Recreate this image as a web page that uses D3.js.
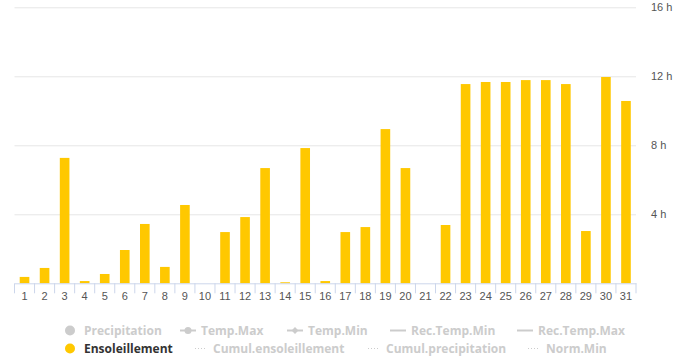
<!DOCTYPE html>
<html>
<head>
<meta charset="utf-8">
<script src="https://cdn.jsdelivr.net/npm/d3@7"></script>
<style>
  body { margin: 0; background: #fff; }
  svg { display: block; font-family: "Open Sans", sans-serif; }
</style>
</head>
<body>
<div id="chart"></div>
<script>
// days of the month and hours of sunshine
const days = d3.range(1, 32);
const sunshine = [0.37, 0.89, 7.27, 0.13, 0.54, 1.93, 3.44, 0.95, 4.54, 0,
                  2.97, 3.84, 6.68, 0.06, 7.84, 0.13, 2.97, 3.26, 8.94, 6.68,
                  0, 3.38, 11.55, 11.67, 11.67, 11.78, 11.78, 11.55, 3.03, 11.96, 10.57];
const yTicks = [4, 8, 12, 16];

// legend rows (only Ensoleillement is active)
const legendRow1 = [
    { name: "Precipitation", symbol: "circle", x: 70 },
    { name: "Temp.Max", symbol: "lineCircle", x: 180 },
    { name: "Temp.Min", symbol: "lineDiamond", x: 287 },
    { name: "Rec.Temp.Min", symbol: "line", x: 390 },
    { name: "Rec.Temp.Max", symbol: "line", x: 517 }
];
const legendRow2 = [
    { name: "Ensoleillement", symbol: "circle", x: 70, active: true },
    { name: "Cumul.ensoleillement", symbol: "dots", x: 195 },
    { name: "Cumul.precipitation", symbol: "dots", x: 368 },
    { name: "Norm.Min", symbol: "dots", x: 528 }
];

const W = 684, H = 362;
const margin = { top: 7.3, right: 48, bottom: 78.7, left: 14.5 };
const width = W - margin.left - margin.right;
const height = H - margin.top - margin.bottom;

const svg = d3.select("#chart").append("svg")
    .attr("width", W)
    .attr("height", H)
  .append("g")
    .attr("transform", "translate(" + margin.left + "," + margin.top + ")");

const x = d3.scaleBand().domain(days).range([0, width]);
const xBar = d3.scaleBand().domain(days).range([0, width]).paddingInner(0.52).paddingOuter(0.26);
const y = d3.scaleLinear().domain([0, 16]).range([height, 0]);

// grid + right axis labels
const yAxis = svg.append("g")
    .attr("transform", "translate(" + width + ",0)")
    .call(d3.axisRight(y).tickValues(yTicks).tickFormat(d => d + " h")
        .tickSizeInner(-width).tickSizeOuter(0).tickPadding(15));
yAxis.select(".domain").remove();
yAxis.selectAll(".tick line").attr("stroke", "#e6e6e6");
yAxis.selectAll(".tick text").attr("fill", "#555").attr("font-size", "11px");

// bars
svg.selectAll(".bar")
    .data(sunshine)
  .enter().append("rect")
    .attr("class", "bar")
    .attr("x", (d, i) => xBar(days[i]))
    .attr("y", d => y(d))
    .attr("width", xBar.bandwidth())
    .attr("height", d => height - y(d))
    .attr("fill", "#ffc800");

// x axis
const xAxis = svg.append("g")
    .attr("transform", "translate(0," + height + ")")
    .call(d3.axisBottom(x).tickSize(0).tickPadding(9));
xAxis.select(".domain").attr("stroke", "#ccd6eb");
xAxis.selectAll(".tick text").attr("fill", "#555").attr("font-size", "11px");
xAxis.selectAll(".sep")
    .data(d3.range(0, days.length + 1))
  .enter().append("line")
    .attr("x1", i => i * x.step())
    .attr("x2", i => i * x.step())
    .attr("y1", 0)
    .attr("y2", 10)
    .attr("stroke", "#ccd6eb");

// legend
const legend = d3.select("svg").append("g").attr("class", "legend");

function drawItem(g, d, cy) {
    const col = d.active ? "#ffc800" : "#cccccc";
    if (d.symbol === "circle") {
        g.append("circle").attr("cx", d.x).attr("cy", cy).attr("r", 5).attr("fill", col);
    } else if (d.symbol === "dots") {
        g.append("line").attr("x1", d.x).attr("x2", d.x + 12).attr("y1", cy).attr("y2", cy)
            .attr("stroke", col).attr("stroke-dasharray", "1,2");
    } else {
        g.append("line").attr("x1", d.x).attr("x2", d.x + 16).attr("y1", cy).attr("y2", cy)
            .attr("stroke", col).attr("stroke-width", 2);
        if (d.symbol === "lineCircle") {
            g.append("circle").attr("cx", d.x + 8).attr("cy", cy).attr("r", 3.5).attr("fill", col);
        } else if (d.symbol === "lineDiamond") {
            g.append("path").attr("d", d3.symbol(d3.symbolDiamond2, 30)())
                .attr("transform", "translate(" + (d.x + 8) + "," + cy + ")").attr("fill", col);
        }
    }
    const tx = d.symbol === "circle" ? d.x + 14 : d.symbol === "dots" ? d.x + 18 : d.x + 21;
    g.append("text")
        .attr("x", tx)
        .attr("y", cy)
        .attr("dy", "0.35em")
        .attr("font-size", "12px")
        .attr("font-weight", "bold")
        .attr("fill", d.active ? "#333" : "#cccccc")
        .text(d.name);
}

legendRow1.forEach(d => drawItem(legend, d, 330.5));
legendRow2.forEach(d => drawItem(legend, d, 348.5));
</script>
</body>
</html>
